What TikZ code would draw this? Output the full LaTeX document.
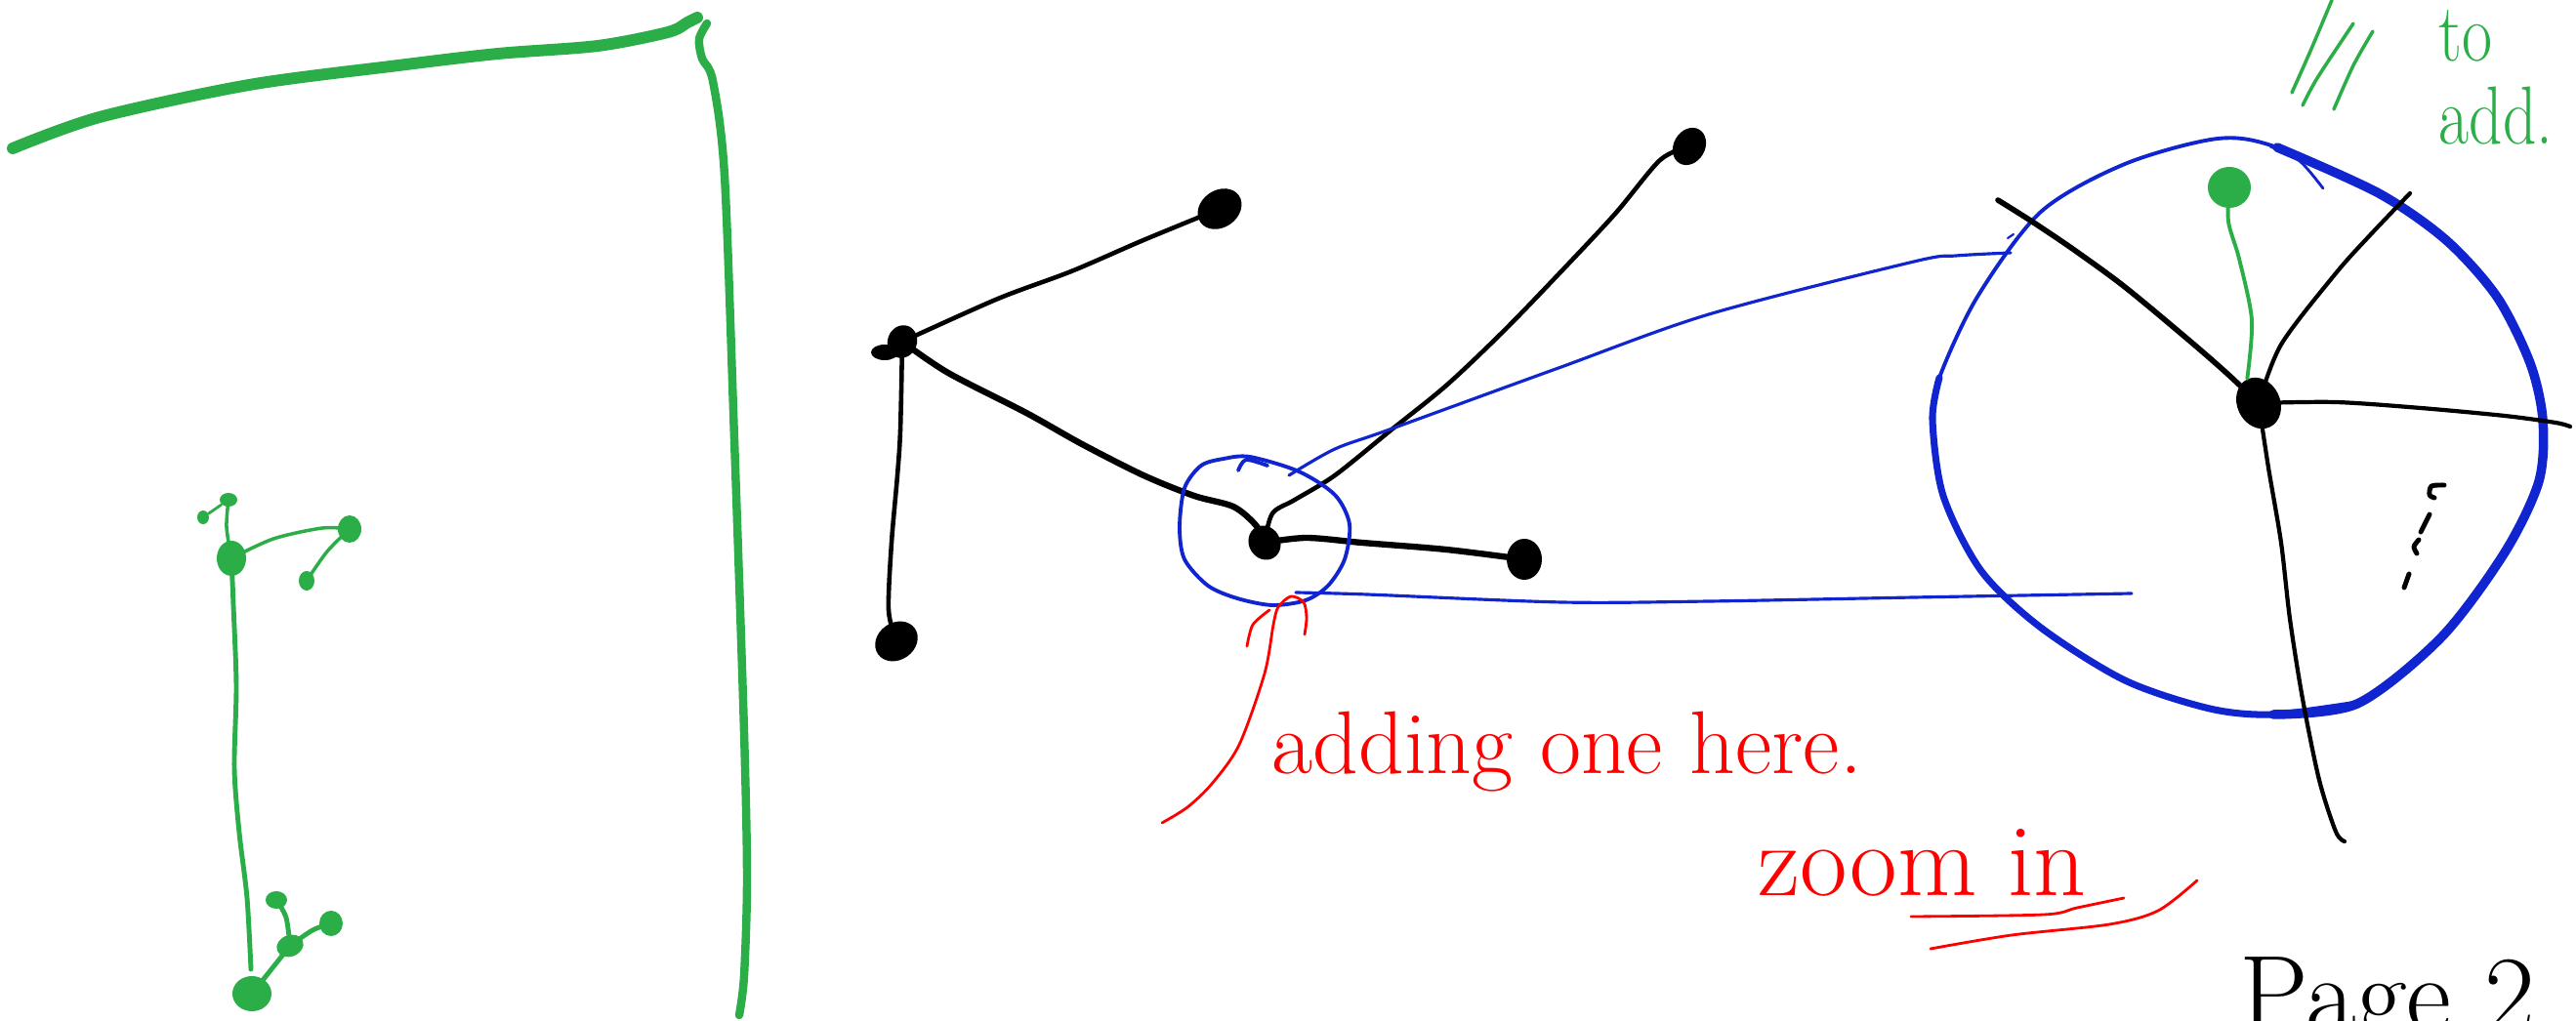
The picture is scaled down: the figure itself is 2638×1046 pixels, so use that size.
\documentclass[tikz,border=0pt]{standalone}
\usepackage{fontspec}
\usepackage{tikz}
\usetikzlibrary{shapes.geometric}
\definecolor{penGreen}{RGB}{43,174,72}
\definecolor{penBlue}{RGB}{16,36,208}
\definecolor{penRed}{RGB}{255,0,0}

\tikzset{
  blob/.style={ellipse, fill=black, inner sep=0pt},
  gblob/.style={ellipse, fill=penGreen, inner sep=0pt},
  edge/.style={line width=1.3pt, line cap=round, line join=round},
  gedge/.style={penGreen, line width=1.4pt, line cap=round, line join=round},
  lens/.style={penBlue, line width=0.9pt, line cap=round, line join=round},
  ink/.style={penRed, line width=0.8pt, line cap=round, line join=round},
}

\begin{document}
\begin{tikzpicture}[x=0.01cm, y=-0.01cm]
\clip (0,0) rectangle (2638,1046);

% green frame on the left
\draw[penGreen, line width=3.4pt, line cap=round]
    plot[smooth] coordinates {(13,152) (102,120) (255,87) (408,67) (510,55) (612,47) (684,33) (704,23) (714,18)};
\draw[penGreen, line width=2.4pt, line cap=round]
    plot[smooth] coordinates {(724,24) (716,40) (719,60) (730,83) (742,180) (752,450) (762,750) (765,900) (762,1000) (757,1040)};

% small green tree
\node[gblob, minimum width=0.30cm, minimum height=0.36cm] (a) at (237,572) {};
\node[gblob, minimum width=0.18cm, minimum height=0.14cm] (b) at (234,512) {};
\node[gblob, minimum width=0.12cm, minimum height=0.14cm] (b2) at (208,530) {};
\node[gblob, minimum width=0.24cm, minimum height=0.28cm] (c) at (358,542) {};
\node[gblob, minimum width=0.16cm, minimum height=0.20cm] (d) at (314,595) {};
\node[gblob, minimum width=0.40cm, minimum height=0.36cm] (e) at (258,1018) {};
\node[gblob, minimum width=0.28cm, minimum height=0.22cm, rotate=20] (f) at (297,969) {};
\node[gblob, minimum width=0.22cm, minimum height=0.18cm] (g) at (283,922) {};
\node[gblob, minimum width=0.24cm, minimum height=0.26cm] (h) at (339,946) {};
\draw[gedge, line width=1pt] plot[smooth] coordinates {(a) (232,540) (b)};
\draw[gedge, line width=0.8pt] (b) -- (b2);
\draw[gedge, line width=1pt] plot[smooth] coordinates {(a) (280,552) (330,541) (c)};
\draw[gedge, line width=1pt] plot[smooth] coordinates {(c) (335,565) (d)};
\draw[gedge] plot[smooth] coordinates {(a) (239,620) (242,703) (240,787) (245,853) (253,920) (257,993)};
\draw[gedge] plot[smooth] coordinates {(e) (270,1003) (f)};
\draw[gedge] plot[smooth] coordinates {(f) (293,940) (g)};
\draw[gedge] plot[smooth] coordinates {(f) (320,953) (h)};

% black tree
\node[blob, minimum width=0.30cm, minimum height=0.34cm, rotate=-20] (t1) at (924,350) {};
\fill (906,361) ellipse [x radius=14, y radius=8];
\node[blob, minimum width=0.48cm, minimum height=0.38cm, rotate=35] (t2) at (1249,214) {};
\node[blob, minimum width=0.46cm, minimum height=0.38cm, rotate=35] (t3) at (918,657) {};
\node[blob, minimum width=0.32cm, minimum height=0.36cm, rotate=30] (t4) at (1295,556) {};
\node[blob, minimum width=0.36cm, minimum height=0.42cm] (t5) at (1561,573) {};
\node[blob, minimum width=0.32cm, minimum height=0.40cm, rotate=-30] (t6) at (1730,150) {};
\draw[edge] plot[smooth] coordinates {(t1) (1022,306) (1097,278) (1171,246) (t2)};
\draw[edge] plot[smooth] coordinates {(t1) (922,441) (919,487) (913,556) (910,625) (t3)};
\draw[edge, line width=1.8pt] plot[smooth] coordinates {(t1) (971,382) (1051,423) (1108,455) (1171,487) (1223,508) (1263,519) (1286,538) (t4)};
\draw[edge, line width=1.8pt] plot[smooth] coordinates {(t4) (1338,551) (1395,556) (1481,563) (t5)};
\draw[edge] plot[smooth] coordinates {(t4) (1303,526) (1326,512) (1367,487) (1424,441) (1481,395) (1539,340) (1596,281) (1654,219) (1700,164) (t6)};

% lens round the hub and its two rays
\draw[lens, line width=1.1pt] plot[smooth cycle] coordinates {(1208,540) (1213,500) (1230,477) (1253,470) (1280,468) (1330,483) (1367,507) (1382,537) (1377,573) (1360,600) (1337,615) (1303,620) (1267,613) (1237,600) (1213,573)};
\draw[lens, line width=1.1pt] plot[smooth] coordinates {(1268,482) (1276,471) (1298,477)};
\draw[lens] plot[smooth] coordinates {(1320,487) (1367,460) (1423,440) (1596,377) (1750,322) (1960,268) (2003,262) (2059,259)};
\draw[lens, line width=0.6pt] (2056,244) -- (2062,240);
\draw[lens] plot[smooth] coordinates {(1327,607) (1400,609) (1600,617) (1750,616) (1960,612) (2183,608)};

% zoomed view
\draw[lens, line width=1.1pt] plot[smooth cycle] coordinates {(2271,142) (2332,151) (2436,198) (2505,246) (2557,304) (2591,372) (2604,430) (2600,493) (2565,566) (2500,653) (2414,721) (2328,732) (2263,726) (2176,697) (2090,643) (2029,585) (1990,508) (1979,430) (1986,387) (2025,304) (2090,217) (2176,168)};
\draw[lens, line width=2.7pt] plot[smooth] coordinates {(2332,151) (2436,198) (2505,246) (2557,304) (2591,372) (2604,430) (2600,493) (2565,566) (2500,653) (2414,721) (2328,732)};
\draw[lens, line width=2pt] plot[smooth] coordinates {(2414,721) (2328,732) (2263,726) (2176,697) (2090,643) (2029,585) (1990,508) (1979,430) (1986,387)};
\draw[lens, line width=0.8pt] plot[smooth] coordinates {(2325,150) (2355,165) (2379,193)};

\node[blob, minimum width=0.44cm, minimum height=0.54cm, rotate=25] (q) at (2313,413) {};
\node[gblob, minimum width=0.44cm, minimum height=0.42cm] (qg) at (2283,192) {};
\coordinate (qa) at (2046,205);
\coordinate (qb) at (2468,198);
\coordinate (qc) at (2632,437);
\coordinate (qd) at (2401,862);
\draw[edge, line width=1.6pt] plot[smooth] coordinates {(q) (2280,382) (2241,348) (2176,294) (2124,256) (2081,227) (qa)};
\draw[edge, line width=1.2pt] plot[smooth] coordinates {(q) (2336,353) (2392,280) (2427,241) (qb)};
\draw[edge, line width=1.2pt] plot[smooth] coordinates {(q) (2392,412) (2479,418) (2565,426) (2617,433) (qc)};
\draw[edge, line width=1.2pt] plot[smooth] coordinates {(q) (2323,479) (2336,556) (2345,634) (2358,716) (2375,799) (2392,852) (qd)};
\draw[gedge, line width=1.1pt] plot[smooth] coordinates {(q.north) (2306,328) (2293,265) (2282,227) (qg)};
% more to come
\draw[edge, line width=1.4pt] plot[smooth] coordinates {(2503,497) (2490,498) (2488,507) (2493,510)};
\draw[edge, line width=1.4pt] (2488,527) -- (2479,545);
\draw[edge, line width=1.4pt] plot[smooth] coordinates {(2477,553) (2472,560) (2475,567)};
\draw[edge, line width=1.4pt] (2467,588) -- (2462,602);

% green note
\draw[gedge, line width=1pt] plot[smooth] coordinates {(2347,95) (2367,50) (2388,0)};
\draw[gedge, line width=1pt] plot[smooth] coordinates {(2358,108) (2373,80) (2410,24)};
\draw[gedge, line width=1pt] plot[smooth] coordinates {(2390,112) (2410,67) (2430,32)};
\node[penGreen, align=left, anchor=north west, inner sep=0pt,
      font=\fontsize{24}{24}\selectfont] (toadd) at (2497,10) {\scalebox{0.8}[1]{to}\\\scalebox{0.8}[1]{add.}};

% red note
\draw[ink] plot[smooth] coordinates {(1190,843) (1216,827) (1241,803) (1269,763) (1295,690) (1304,640) (1309,622) (1322,611) (1335,617) (1338,633) (1336,650)};
\draw[ink] plot[smooth] coordinates {(1277,662) (1283,640) (1300,625)};
\node[penRed, anchor=base west, inner sep=0pt,
      font=\fontsize{26}{26}\selectfont] (here) at (1302,792) {adding one here.};
\node[penRed, anchor=base west, inner sep=0pt,
      font=\fontsize{30}{30}\selectfont] (zoomin) at (1800,917) {zoom in};
\draw[ink] plot[smooth] coordinates {(1957,939) (2093,937) (2127,930) (2175,920)};
\draw[ink] plot[smooth] coordinates {(1977,972) (2060,958) (2160,947) (2210,933) (2250,902)};

\node[anchor=base west, inner sep=0pt,
      font=\fontsize{32}{32}\selectfont] (page) at (2293,1057) {Page 2};
\end{tikzpicture}
\end{document}
